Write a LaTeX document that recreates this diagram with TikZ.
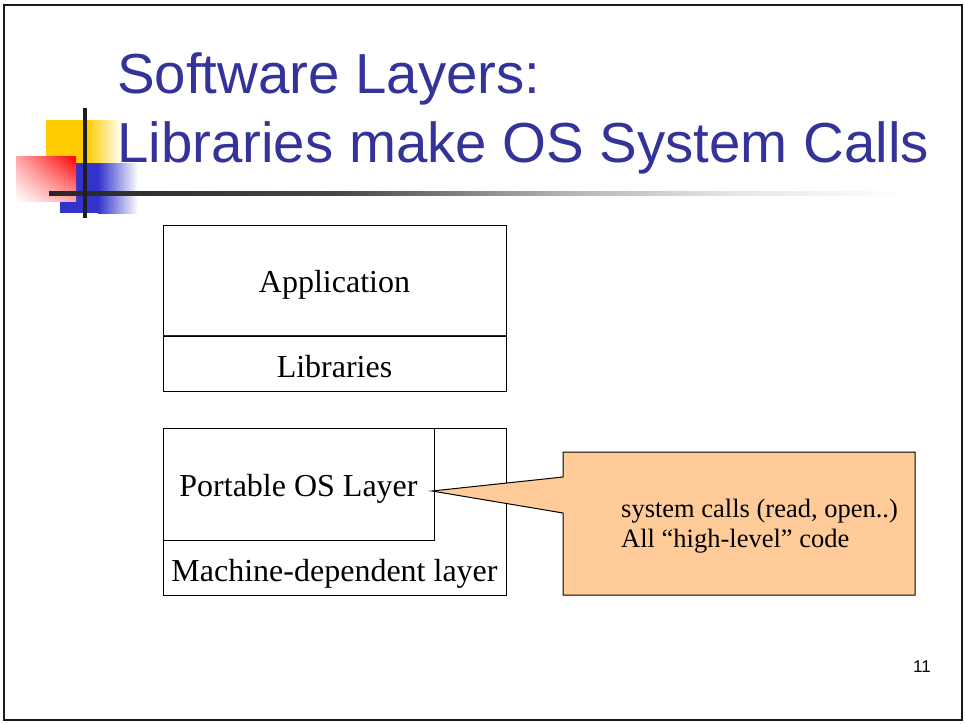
\documentclass[tikz,border=0pt]{standalone}
\usepackage{fontspec}
\usetikzlibrary{shadings}
\setmainfont{Liberation Serif}
\newfontfamily\titlefont{Liberation Sans}
\definecolor{titleblue}{HTML}{333399}
\definecolor{deco yellow}{HTML}{FFCC00}
\definecolor{deco blue}{HTML}{3333CC}
\definecolor{deco red}{HTML}{FF0000}
\definecolor{callout}{HTML}{FFCC99}
% rule under the title: dark at the left, fading out to the right
\pgfdeclarehorizontalshading{rulefade}{100bp}{%
  color(0bp)=(black!85); color(25bp)=(black!85); color(42bp)=(black!72);
  color(55bp)=(black!30); color(65bp)=(black!10); color(75bp)=(white);
  color(100bp)=(white)}
\tikzset{
  layer/.style={draw=black, line width=1pt, rectangle, inner sep=0pt},
  layertext/.style={font=\fontsize{32}{38}\selectfont, inner sep=0pt, anchor=base},
  notetext/.style={font=\fontsize{26.5}{32}\selectfont, inner sep=0pt, anchor=base west},
  titletext/.style={font=\titlefont\fontsize{56.4}{66}\selectfont, text=titleblue,
    inner sep=0pt, anchor=base west},
}
\begin{document}
\begin{tikzpicture}[x=1pt, y=-1pt]
\useasboundingbox (0,0) rectangle (965,723);
\fill[white] (0,0) rectangle (965,723);
% slide frame
\draw[line width=2.5pt, black!90] (4,5) rectangle (962,720);

% corner decoration
\fill[deco yellow] (46,120) rectangle (87,163);
\shade[left color=deco yellow, right color=white] (87,120) rectangle (122,163);
\fill[deco blue] (60,163) rectangle (98,213);
\shade[left color=deco blue, right color=white] (98,163) rectangle (138,213);
\shade[upper right=deco red, upper left=deco red!35, lower right=deco red!35,
       lower left=white] (16,156) rectangle (76,201);
\shade[shading=rulefade] (49,191) rectangle (905,195);
\fill[black!88] (83,108) rectangle (87,218);

% title
\node[titletext] (t1) at (117,93) {Software Layers:};
\node[titletext] (t2) at (117,162) {Libraries make OS System Calls};

% layer stack
\node[layer, minimum width=343pt, minimum height=111pt] (app) at (334.5,280.5) {};
\node[layer, minimum width=343pt, minimum height=55pt] (lib) at (334.5,363.5) {};
\draw[line width=1.8pt, black!85] (lib.north west) -- (lib.north east);
\node[layertext] (appt) at (334.5,292) {Application};
\node[layertext] (libt) at (334.5,377) {Libraries};

\node[layer, minimum width=343pt, minimum height=167pt] (mach) at (334.5,511.5) {};
\node[layer, minimum width=271pt, minimum height=112pt] (port) at (298.5,484) {};
\node[layertext] (portt) at (298.5,496) {Portable OS Layer};
\node[layertext] (macht) at (334.5,581) {Machine-dependent layer};

% callout pointing at the portable layer
\coordinate (tip) at (432,491);
\coordinate (cnw) at (563,452);
\coordinate (cse) at (915,595);
\filldraw[fill=callout, draw=black, line width=1pt]
  (cnw) -- (cnw -| cse) -- (cse) -- (cse -| cnw) -- (563,513) -- (tip)
  -- (563,477) -- cycle;
\node[notetext] (n1) at (621,517) {system calls (read, open..)};
\node[notetext] (n2) at (621,547) {All “high-level” code};

% page number
\node[font=\titlefont\fontsize{17}{20}\selectfont, inner sep=0pt, anchor=base] (pg) at (922,672) {11};
\end{tikzpicture}
\end{document}
